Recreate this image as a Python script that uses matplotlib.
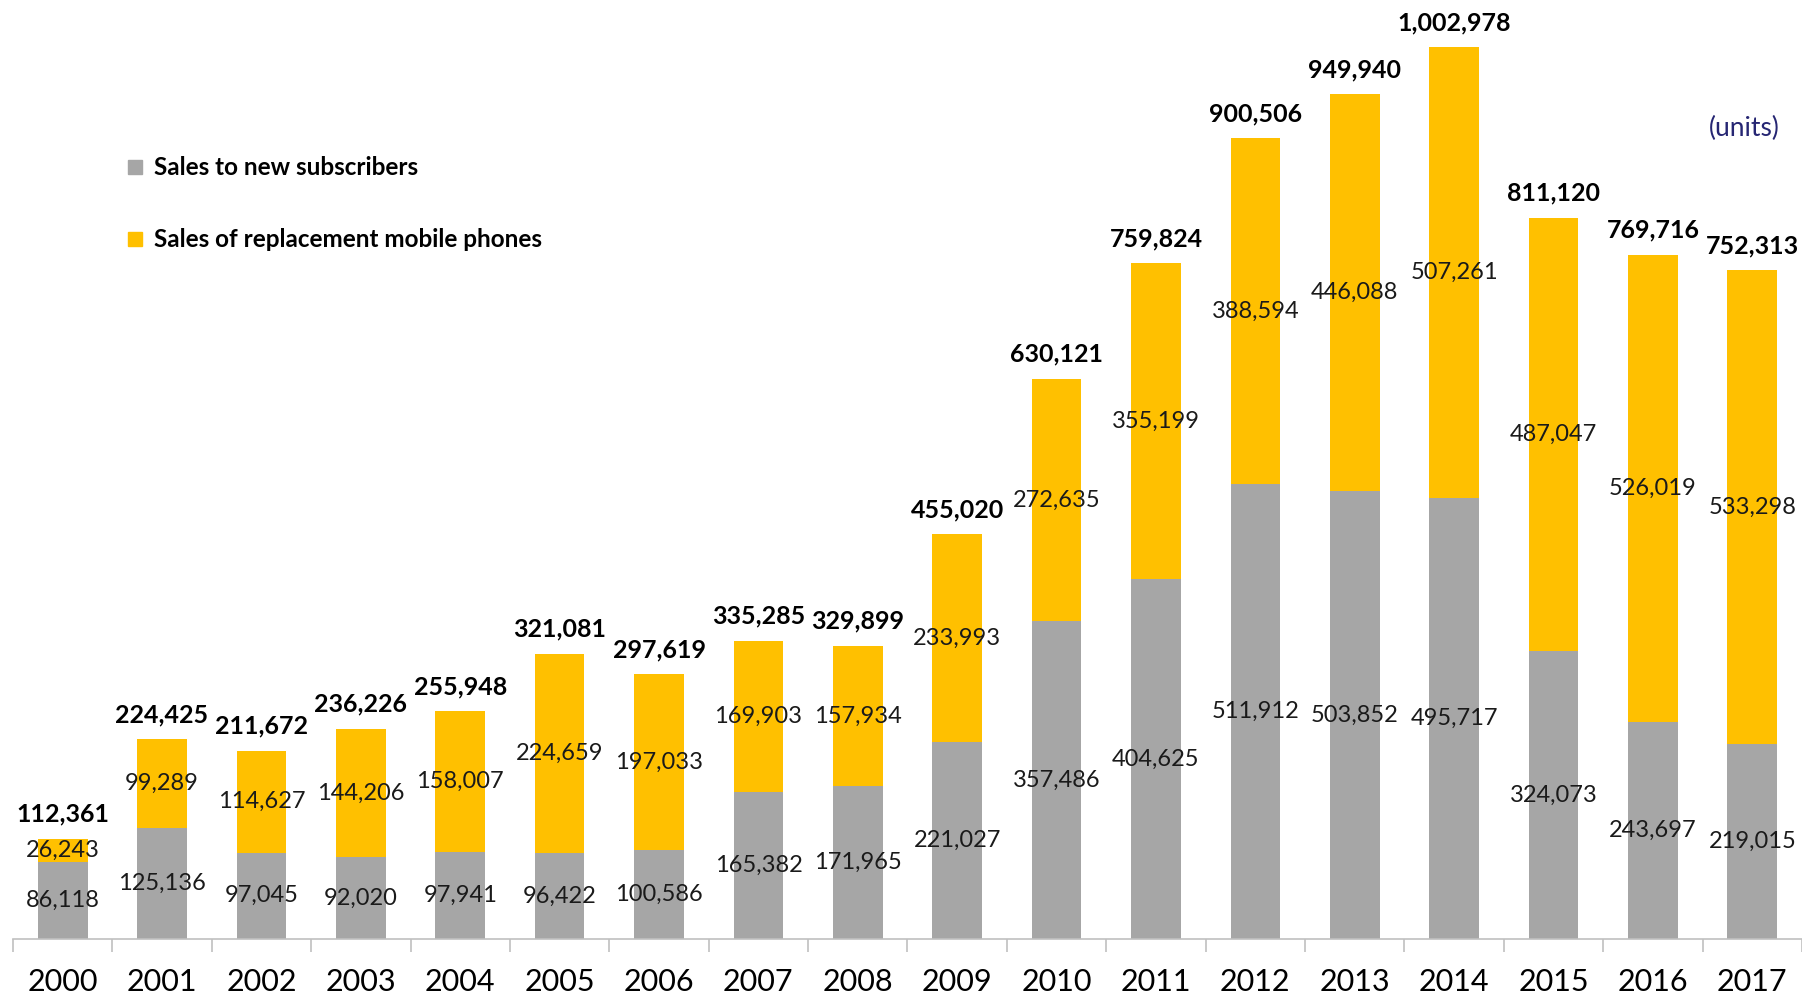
import matplotlib
matplotlib.use("Agg")
import matplotlib.pyplot as plt
from matplotlib.lines import Line2D

years = ["2000", "2001", "2002", "2003", "2004", "2005", "2006", "2007", "2008",
         "2009", "2010", "2011", "2012", "2013", "2014", "2015", "2016", "2017"]
new_subs = [86118, 125136, 97045, 92020, 97941, 96422, 100586, 165382, 171965,
            221027, 357486, 404625, 511912, 503852, 495717, 324073, 243697, 219015]
replacement = [26243, 99289, 114627, 144206, 158007, 224659, 197033, 169903, 157934,
               233993, 272635, 355199, 388594, 446088, 507261, 487047, 526019, 533298]
totals = [112361, 224425, 211672, 236226, 255948, 321081, 297619, 335285, 329899,
          455020, 630121, 759824, 900506, 949940, 1002978, 811120, 769716, 752313]

GRAY = "#a6a6a6"; GOLD = "#ffc000"; AXC = "#c0c0c0"; NAVY = "#262673"
plt.rcParams["font.family"] = ["Lato", "DejaVu Sans"]

fig = plt.figure(figsize=(18.02, 9.97), dpi=100, facecolor="white")
ax = fig.add_axes([0.0072, 0.0582, 0.9928, 0.9418])

x = list(range(len(years)))
ax.bar(x, new_subs, width=0.5, color=GRAY, zorder=2)
ax.bar(x, replacement, width=0.5, bottom=new_subs, color=GOLD, zorder=2)

for i in x:
    ax.text(i, new_subs[i] / 2, f"{new_subs[i]:,}", ha="center", va="center",
            fontsize=17, color="#1a1a1a", zorder=3)
    ax.text(i, new_subs[i] + replacement[i] / 2, f"{replacement[i]:,}", ha="center",
            va="center", fontsize=17, color="#1a1a1a", zorder=3)
    ax.annotate(f"{totals[i]:,}", (i, totals[i]), xytext=(0, 9.5), textcoords="offset points",
                ha="center", va="bottom", fontsize=18, fontweight="bold", color="black")

ax.set_xlim(-0.5, len(years) - 0.5)
ax.set_ylim(0, 1056200)
for s in ["top", "right", "left"]:
    ax.spines[s].set_visible(False)
ax.spines["bottom"].set_color(AXC)
ax.spines["bottom"].set_linewidth(1.2)
ax.set_yticks([])
ax.set_xticks(x)
ax.set_xticklabels(years, fontsize=22, color="black")
ax.tick_params(axis="x", length=0, pad=21)
ax.set_xticks([i - 0.5 for i in range(len(years) + 1)], minor=True)
ax.tick_params(axis="x", which="minor", length=9, color=AXC, width=1.2)

handles = [Line2D([], [], marker="s", linestyle="", markersize=10, color=GRAY),
           Line2D([], [], marker="s", linestyle="", markersize=10, color=GOLD)]
leg = fig.legend(handles, ["Sales to new subscribers", "Sales of replacement mobile phones"],
                 loc="upper left", bbox_to_anchor=(0.056, 0.865), frameon=False,
                 prop={"size": 17.5, "weight": "bold"}, labelspacing=2.0,
                 handletextpad=0.3, handlelength=1.0)

fig.text(0.968, 0.871, "(units)", ha="center", va="center", fontsize=19, color=NAVY)

fig.savefig("out.png", dpi=100, facecolor="white")
